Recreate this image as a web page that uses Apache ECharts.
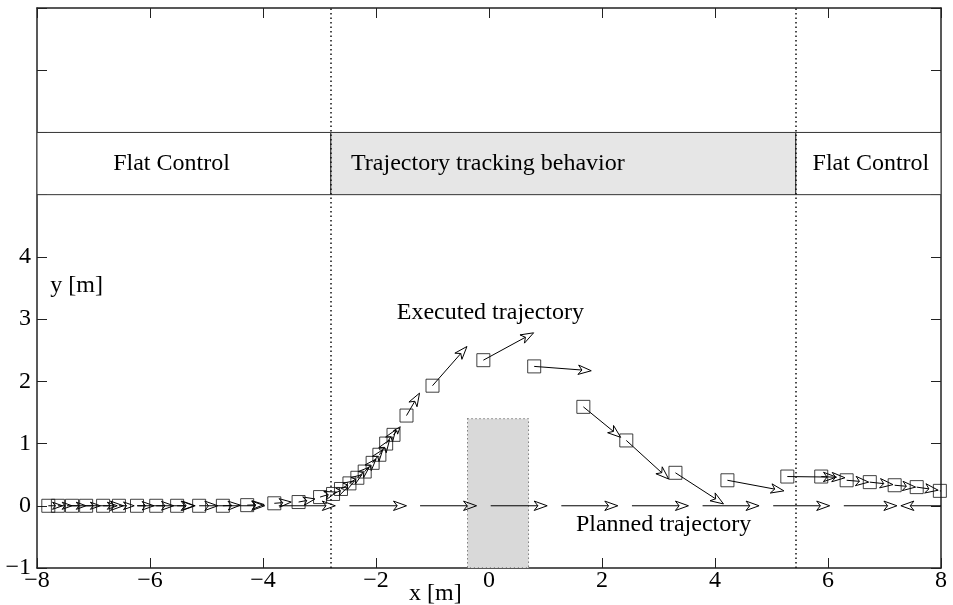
<!DOCTYPE html>
<html><head><meta charset="utf-8">
<script src="https://cdn.jsdelivr.net/npm/echarts@6.0.0/dist/echarts.min.js"></script>
<style>html,body{margin:0;padding:0;background:#fff}#c{width:953px;height:605px}</style>
</head><body><div id="c"></div>
<script>
// ---- data ----
const execX = [-7.80,-7.63,-7.38,-7.13,-6.83,-6.55,-6.23,-5.89,-5.52,-5.13,-4.71,-4.28,-3.80,-3.37,-2.99,-2.76,-2.62,-2.47,-2.33,-2.20,-2.06,-1.94,-1.82,-1.69,-1.46,-1.00,-0.10,0.80,1.67,2.43,3.30,4.22,5.28,5.88,6.33,6.74,7.18,7.57,7.98];
const execY = [0,0,0,0,0,0,0,0,0,0,0,0.01,0.04,0.06,0.14,0.19,0.27,0.36,0.45,0.55,0.69,0.82,1.00,1.14,1.45,1.93,2.34,2.24,1.59,1.05,0.53,0.41,0.47,0.47,0.41,0.38,0.33,0.30,0.24];
const execTipX = [-7.55,-7.38,-7.13,-6.88,-6.58,-6.28,-5.93,-5.58,-5.20,-4.80,-4.40,-3.98,-3.50,-3.08,-2.70,-2.50,-2.38,-2.25,-2.12,-2.00,-1.88,-1.76,-1.65,-1.57,-1.23,-0.39,0.79,1.81,2.33,3.18,4.15,5.22,6.15,6.30,6.72,7.15,7.55,7.95,8.40];
const execTipY = [0,0,0,0,0,0,0,0,0,0,0.01,0.02,0.06,0.11,0.22,0.30,0.40,0.50,0.62,0.75,0.90,1.06,1.22,1.27,1.81,2.56,2.78,2.17,1.10,0.43,0.03,0.24,0.46,0.45,0.38,0.34,0.30,0.25,0.18];

const planStartX = [-7.47,-6.22,-4.97,-3.72,-2.47,-1.22,0.03,1.28,2.53,3.78,5.03,6.28,8.30];
const planEndX   = [-6.47,-5.22,-3.97,-2.72,-1.46,-0.22,1.03,2.28,3.53,4.78,6.03,7.22,7.29];
const planY = 0;

const phaseX0 = [-8,-2.8,5.43];
const phaseX1 = [-2.8,5.43,8];
const phaseY0 = 5, phaseY1 = 6;
const phaseNames = ['Flat Control','Trajectory tracking behavior','Flat Control'];
const phaseLabelX = [-5.62,-0.02,6.76];
const phaseLabelY = 5.5;
const switchX = [-2.8,5.43];

const obstacleX = [-0.38,0.70];
const obstacleY = [-1,1.40];

const annX = [0.025,3.09,-7.30,-0.95];
const annY = [3.10,-0.31,3.53,-1.42];
const annText = ['Executed trajectory','Planned trajectory','y [m]','x [m]'];

const xTickInterval = 2, yTickInterval = 1;
const yLabelMax = 4;

// ---- chart ----
const FONT = 'Liberation Serif';
const chart = echarts.init(document.getElementById('c'));

function arrowItem(params, api) {
  const p0 = api.coord([api.value(0), api.value(1)]);
  const p1 = api.coord([api.value(2), api.value(3)]);
  const dx = p1[0]-p0[0], dy = p1[1]-p0[1];
  const len = Math.hypot(dx, dy) || 1;
  const ux = dx/len, uy = dy/len, nx = -uy, ny = ux;
  const L = Math.min(13, len*0.7), W = L*0.36, N = L*0.28;
  const bx = p1[0]-ux*L, by = p1[1]-uy*L;
  const notch = [p1[0]-ux*(L-N), p1[1]-uy*(L-N)];
  return {type:'group', children:[
    {type:'line', shape:{x1:p0[0],y1:p0[1],x2:notch[0],y2:notch[1]}, style:{stroke:'#000',lineWidth:1}},
    {type:'polygon', shape:{points:[p1,[bx+nx*W,by+ny*W],notch,[bx-nx*W,by-ny*W]]}, style:{fill:'none',stroke:'#000',lineWidth:1}}
  ]};
}

const execArrows = execX.map((x,i)=>[x, execY[i], execTipX[i], execTipY[i]]);
const planArrows = planStartX.map((x,i)=>[x, planY, planEndX[i], planY]);
const phaseData = phaseX0.map((x,i)=>[x, phaseX1[i], phaseY0, phaseY1]);
const textData = phaseNames.map((t,i)=>[phaseLabelX[i], phaseLabelY, t]).concat(annText.map((t,i)=>[annX[i], annY[i], t]));

const axisLineStyle = {color:'#222', width:1.5};
const tickStyle = {inside:true, length:10, lineStyle:{color:'#222', width:1}};
const minus = v => String(v).replace('-', '\u2212');

chart.setOption({
  animation:false,
  backgroundColor:'#fff',
  grid:{left:37, right:12, top:8, bottom:37, containLabel:false},
  xAxis:[
    {type:'value', min:-8, max:8, interval:xTickInterval, position:'bottom',
     axisLine:{onZero:false, lineStyle:axisLineStyle}, axisTick:tickStyle, splitLine:{show:false},
     axisLabel:{fontFamily:FONT, fontSize:24, color:'#000', margin:1, formatter:minus}},
    {type:'value', min:-8, max:8, interval:xTickInterval, position:'top',
     axisLine:{onZero:false, lineStyle:axisLineStyle}, axisTick:tickStyle, splitLine:{show:false},
     axisLabel:{show:false}}
  ],
  yAxis:[
    {type:'value', min:-1, max:8, interval:yTickInterval, position:'left',
     axisLine:{onZero:false, lineStyle:axisLineStyle}, axisTick:tickStyle, splitLine:{show:false},
     axisLabel:{fontFamily:FONT, fontSize:24, color:'#000', margin:6, formatter:v => v>yLabelMax ? '' : minus(v)}},
    {type:'value', min:-1, max:8, interval:yTickInterval, position:'right',
     axisLine:{onZero:false, lineStyle:axisLineStyle}, axisTick:tickStyle, splitLine:{show:false},
     axisLabel:{show:false}}
  ],
  series:[
    {type:'custom', name:'phases', z:1, clip:true,
     data:phaseData, encode:{x:[0,1], y:[2,3]},
     renderItem:(params, api)=>{
       const a = api.coord([api.value(0), api.value(3)]);
       const b = api.coord([api.value(1), api.value(2)]);
       return {type:'rect', shape:{x:a[0], y:a[1], width:b[0]-a[0], height:b[1]-a[1]},
         style:{fill: params.dataIndex===1 ? '#e6e6e6' : '#fff', stroke:'#333', lineWidth:1}};
     }},
    {type:'custom', name:'obstacle', z:1, clip:true,
     data:[[obstacleX[0], obstacleX[1], obstacleY[0], obstacleY[1]]], encode:{x:[0,1], y:[2,3]},
     renderItem:(params, api)=>{
       const a = api.coord([api.value(0), api.value(3)]);
       const b = api.coord([api.value(1), api.value(2)]);
       return {type:'rect', shape:{x:a[0], y:a[1], width:b[0]-a[0], height:b[1]-a[1]},
         style:{fill:'#d9d9d9', stroke:'#444', lineWidth:1, lineDash:[1,3]}};
     }},
    {type:'custom', name:'planned', z:3, clip:true,
     data:planArrows, encode:{x:[0,2], y:[1,3]}, renderItem:arrowItem},
    {type:'custom', name:'executed', z:3, clip:true,
     data:execArrows, encode:{x:[0,2], y:[1,3]}, renderItem:arrowItem},
    {type:'scatter', name:'executed points', z:4,
     data:execX.map((x,i)=>[x, execY[i]]),
     symbol:'rect', symbolSize:13,
     itemStyle:{color:'rgba(0,0,0,0)', borderColor:'#111', borderWidth:1},
     markLine:{silent:true, symbol:'none', label:{show:false},
       lineStyle:{type:[1.5,3], color:'#111', width:1.5},
       data:switchX.map(x=>({xAxis:x}))}},
    {type:'custom', name:'texts', z:5, clip:false,
     data:textData, encode:{x:0, y:1},
     renderItem:(params, api)=>{
       const p = api.coord([api.value(0), api.value(1)]);
       return {type:'text', x:p[0], y:p[1],
         style:{text:textData[params.dataIndex][2], fontFamily:FONT, fontSize:24, fill:'#000',
           align:'center', verticalAlign:'middle'}};
     }}
  ]
});
</script>
</body></html>
